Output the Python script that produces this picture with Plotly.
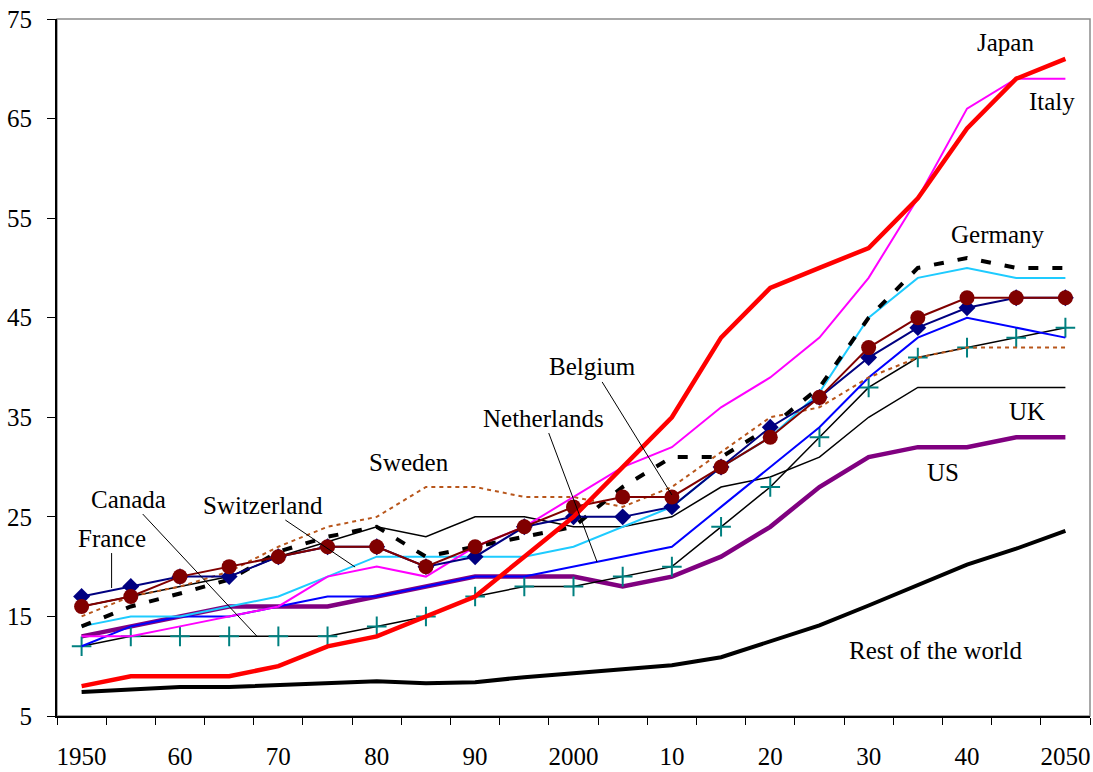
import plotly.graph_objects as go

years = list(range(1950, 2051, 5))
tick_vals = [1950, 1960, 1970, 1980, 1990, 2000, 2010, 2020, 2030, 2040, 2050]
tick_text = ["1950", "60", "70", "80", "90", "2000", "10", "20", "30", "40", "2050"]

japan = [8, 9, 9, 9, 10, 12, 13, 15, 17, 21, 25, 30, 35, 43, 48, 50, 52, 57, 64, 69, 71]
italy = [13, 13, 14, 15, 16, 19, 20, 19, 22, 24, 27, 30, 32, 36, 39, 43, 49, 57, 66, 69, 69]
germany = [14, 16, 17.3, 18.7, 21.5, 23, 24, 21, 22, 23, 24, 28, 31, 31, 34, 38, 45, 50, 51, 50, 50]
sweden = [15, 17, 18, 19.5, 22, 24, 25, 28, 28, 27, 27, 26, 28, 31.5, 35, 36, 39, 41, 42, 42, 42]
switzerland = [14, 15, 15, 16, 17, 19, 21, 21, 21, 21, 22, 24, 26, 30, 33, 37.5, 45, 49, 50, 49, 49]
belgium = [16, 17, 19, 20, 21, 22, 22, 20, 22, 24, 26, 27, 27, 30, 33, 37, 42, 45, 47, 47, 47]
france = [17, 18, 19, 19, 21, 22, 22, 20, 21, 24, 25, 25, 26, 30, 34, 37, 41, 44, 46, 47, 47]
netherlands = [12, 14, 15, 15, 16, 17, 17, 18, 19, 19, 20, 21, 22, 26, 30, 34, 39, 43, 45, 44, 43]
canada = [12, 13, 13, 13, 13, 13, 14, 15, 17, 18, 18, 19, 20, 24, 28, 33, 38, 41, 42, 43, 44]
uk = [16, 17, 18, 19, 21, 22.5, 24, 23, 25, 25, 24, 24, 25, 28, 29, 31, 35, 38, 38, 38, 38]
us = [13, 14, 15, 16, 16, 16, 17, 18, 19, 19, 19, 18, 19, 21, 24, 28, 31, 32, 32, 33, 33]
rest_world = [7.4, 7.6, 7.9, 7.9, 8.1, 8.3, 8.5, 8.3, 8.4, 8.9, 9.3, 9.8, 10.1, 10.9, 12.5,
              14.1, 16.1, 18.2, 20.2, 21.8, 23.6]

FONT = "Liberation Serif, Times New Roman, serif"
FS = 25

fig = go.Figure()


def add(vals, color, width, dash="solid", marker=None):
    kw = dict(x=years, y=vals, mode="lines", hoverinfo="skip", showlegend=False,
              line=dict(color=color, width=width, dash=dash))
    if marker:
        kw["mode"] = "lines+markers"
        kw["marker"] = marker
    fig.add_trace(go.Scatter(**kw))


add(rest_world, "black", 4)
add(us, "#800080", 4.5)
add(uk, "black", 1.5)
add(canada, "black", 1.5, marker=dict(symbol="cross-thin", size=14,
                                      line=dict(color="#008080", width=2), color="#008080"))
add(netherlands, "#0000FF", 2)
add(switzerland, "#1ECBFF", 2)
add(italy, "#FF00FF", 2)
add(sweden, "#B8561B", 2, dash="4px,4px")
add(germany, "black", 4, dash="10px,14px")
add(france, "#000080", 2, marker=dict(symbol="diamond", size=13, color="#000080"))
add(belgium, "#800000", 2, marker=dict(symbol="circle", size=15, color="#800000"))
add(japan, "#FF0000", 4.5)

# plain labels: (text, year, value)
plain_labels = [
    ("Japan", 2043.9, 72.6),
    ("Italy", 2048.6, 66.7),
    ("Germany", 2043.1, 53.4),
    ("Sweden", 1983.3, 30.5),
    ("UK", 2046.1, 35.6),
    ("US", 2037.6, 29.5),
    ("Rest of the world", 2036.8, 11.6),
]
for t, xx, yy in plain_labels:
    fig.add_annotation(x=xx, y=yy, text=t, showarrow=False,
                       font=dict(family=FONT, size=FS, color="black"))

# labels with leader lines: (text, tip year, tip value, ax, ay)
leader_labels = [
    ("France", 1953.05, 17.85, 0, -50),
    ("Canada", 1967.9, 12.93, -129, -138),
    ("Switzerland", 1977.8, 19.96, -92, -62),
    ("Netherlands", 2002.4, 20.46, -54, -144),
    ("Belgium", 2010.0, 27.2, -79, -128),
]
for t, xx, yy, ax, ay in leader_labels:
    fig.add_annotation(x=xx, y=yy, text=t, showarrow=True, arrowhead=0,
                       arrowwidth=1, arrowcolor="black", ax=ax, ay=ay,
                       font=dict(family=FONT, size=FS, color="black"))

fig.add_shape(type="rect", xref="paper", yref="paper", x0=0, y0=0, x1=1, y1=1,
              line=dict(color="#8c8c8c", width=1.5), layer="below")

fig.update_layout(
    width=1093, height=772,
    margin=dict(l=57, r=3, t=19, b=56),
    paper_bgcolor="white", plot_bgcolor="white",
    font=dict(family=FONT, size=FS, color="black"),
    xaxis=dict(range=[1947.5, 2052.5], tickmode="array", tickvals=tick_vals,
               ticktext=tick_text, ticks="outside", ticklen=17,
               tickcolor="rgba(0,0,0,0)", showline=True, linecolor="black",
               linewidth=2, showgrid=False, zeroline=False, automargin=False,
               minor=dict(tickmode="linear", tick0=1947.5, dtick=5, ticks="outside",
                          ticklen=7, tickcolor="black", tickwidth=1, showgrid=False)),
    yaxis=dict(range=[5, 75], tickmode="array", tickvals=list(range(5, 76, 10)),
               ticks="outside", ticklen=8, tickcolor="black", showline=True,
               linecolor="black", linewidth=2, showgrid=False, zeroline=False,
               ticklabelstandoff=10, automargin=False),
)

fig.write_html("out.html", post_script="document.body.style.margin='0';",
               config={"displayModeBar": False})
